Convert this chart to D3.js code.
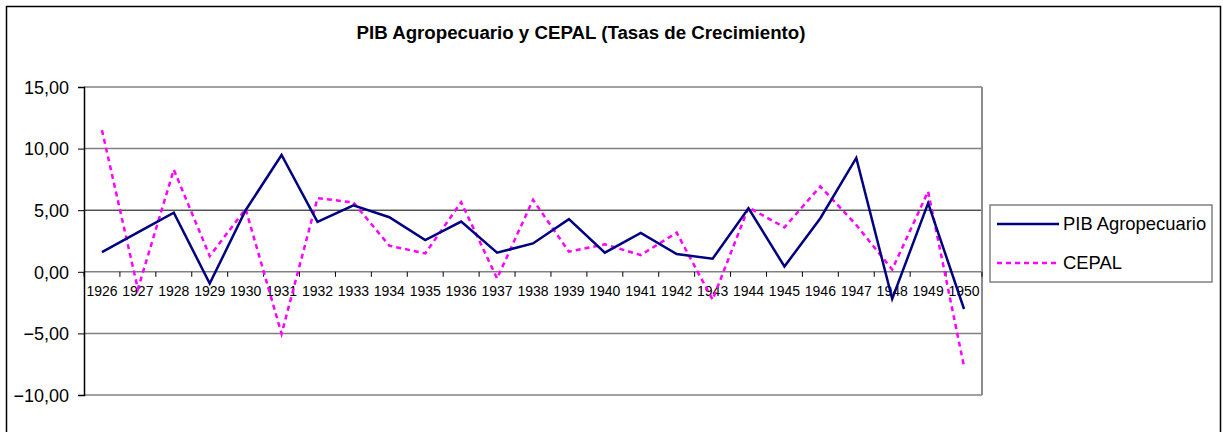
<!DOCTYPE html>
<html>
<head>
<meta charset="utf-8">
<script src="https://cdn.jsdelivr.net/npm/d3@7"></script>
<style>
  body { margin: 0; background: #fff; }
  text { font-family: "Liberation Sans", Arial, sans-serif; fill: #000; }
</style>
</head>
<body>
<div id="chart"></div>
<script>
// Data
const years = ["1926","1927","1928","1929","1930","1931","1932","1933","1934","1935","1936","1937","1938",
               "1939","1940","1941","1942","1943","1944","1945","1946","1947","1948","1949","1950"];
const pibAgro = [1.6, 3.2, 4.8, -0.95, 5.0, 9.48, 4.05, 5.4, 4.43, 2.58, 4.08, 1.55, 2.3,
                 4.27, 1.55, 3.15, 1.44, 1.06, 5.16, 0.43, 4.35, 9.24, -2.2, 5.57, -3.02];
const cepal = [11.5, -1.4, 8.29, 1.28, 5.1, -5.03, 5.98, 5.63, 2.12, 1.49, 5.65, -0.54, 5.84,
               1.63, 2.23, 1.36, 3.18, -2.26, 5.22, 3.61, 6.93, 3.8, 0.19, 6.52, -7.69];
const yTicks = [-10, -5, 0, 5, 10, 15];

const W = 1223, H = 432;
const plot = {left: 84, right: 982, top: 87, bottom: 395};

const svg = d3.select("#chart").append("svg")
  .attr("width", W).attr("height", H);

// outer chart border
svg.append("rect")
  .attr("x", 6.5).attr("y", 6.5)
  .attr("width", 1214).attr("height", 440)
  .attr("fill", "none").attr("stroke", "#000").attr("stroke-width", 1.5);

// title
svg.append("text")
  .attr("x", 581).attr("y", 39)
  .attr("text-anchor", "middle")
  .style("font-size", "18.7px").style("font-weight", "bold")
  .text("PIB Agropecuario y CEPAL (Tasas de Crecimiento)");

const x = d3.scaleBand().domain(years).range([plot.left, plot.right]);
const y = d3.scaleLinear().domain([-10, 15]).range([plot.bottom, plot.top]);

// gridlines
svg.append("g").selectAll("line")
  .data(yTicks)
  .enter().append("line")
    .attr("x1", plot.left).attr("x2", plot.right)
    .attr("y1", d => y(d)).attr("y2", d => y(d))
    .attr("stroke", d => d === 5 ? "#000" : "#808080")
    .attr("stroke-width", d => d === 5 ? 1 : 1.5);

// plot area right border
svg.append("line")
  .attr("x1", plot.right).attr("x2", plot.right)
  .attr("y1", plot.top).attr("y2", plot.bottom)
  .attr("stroke", "#8c8c8c").attr("stroke-width", 2);

// y axis
const yAxis = svg.append("g")
  .attr("transform", `translate(${plot.left},0)`)
  .call(d3.axisLeft(y).tickValues(yTicks).tickSize(6).tickPadding(9)
        .tickFormat(d => d3.format(".2f")(d).replace(".", ",")));
yAxis.select(".domain").attr("stroke", "#000").attr("stroke-width", 1.5);
yAxis.selectAll(".tick line").attr("stroke", "#000");
yAxis.selectAll("text").style("font-size", "18px").attr("dy", "0.35em");

// x axis on zero line, ticks at category boundaries
const xAxis = svg.append("g")
  .attr("transform", `translate(0,${y(0)})`)
  .call(d3.axisBottom(x).tickSize(0).tickPadding(14));
xAxis.select(".domain").remove();
xAxis.selectAll("text").style("font-size", "14px");
svg.append("g").selectAll("line")
  .data(years.concat(["end"]))
  .enter().append("line")
    .attr("x1", (d, i) => plot.left + i * x.step())
    .attr("x2", (d, i) => plot.left + i * x.step())
    .attr("y1", y(0)).attr("y2", y(0) + 5)
    .attr("stroke", "#000");

// lines
const cx = (d, i) => x(years[i]) + x.bandwidth() / 2;
const seriesLine = d3.line().x(cx).y(d => y(d));

svg.append("path")
  .datum(cepal)
  .attr("fill", "none")
  .attr("stroke", "#ff00ff")
  .attr("stroke-width", 2.5)
  .attr("stroke-dasharray", "5,4")
  .attr("d", seriesLine);

svg.append("path")
  .datum(pibAgro)
  .attr("fill", "none")
  .attr("stroke", "#000080")
  .attr("stroke-width", 2.5)
  .attr("d", seriesLine);

// legend
const legend = svg.append("g");
legend.append("rect")
  .attr("x", 990).attr("y", 205)
  .attr("width", 222).attr("height", 77)
  .attr("fill", "#fff").attr("stroke", "#808080").attr("stroke-width", 1.5);
const items = [
  {name: "PIB Agropecuario", color: "#000080", dash: null, y: 224},
  {name: "CEPAL", color: "#ff00ff", dash: "5,4", y: 263}
];
items.forEach(it => {
  legend.append("line")
    .attr("x1", 997).attr("x2", 1059)
    .attr("y1", it.y).attr("y2", it.y)
    .attr("stroke", it.color).attr("stroke-width", 2.5)
    .attr("stroke-dasharray", it.dash);
  legend.append("text")
    .attr("x", 1063).attr("y", it.y).attr("dy", "0.35em")
    .style("font-size", "18.4px")
    .text(it.name);
});
</script>
</body>
</html>
